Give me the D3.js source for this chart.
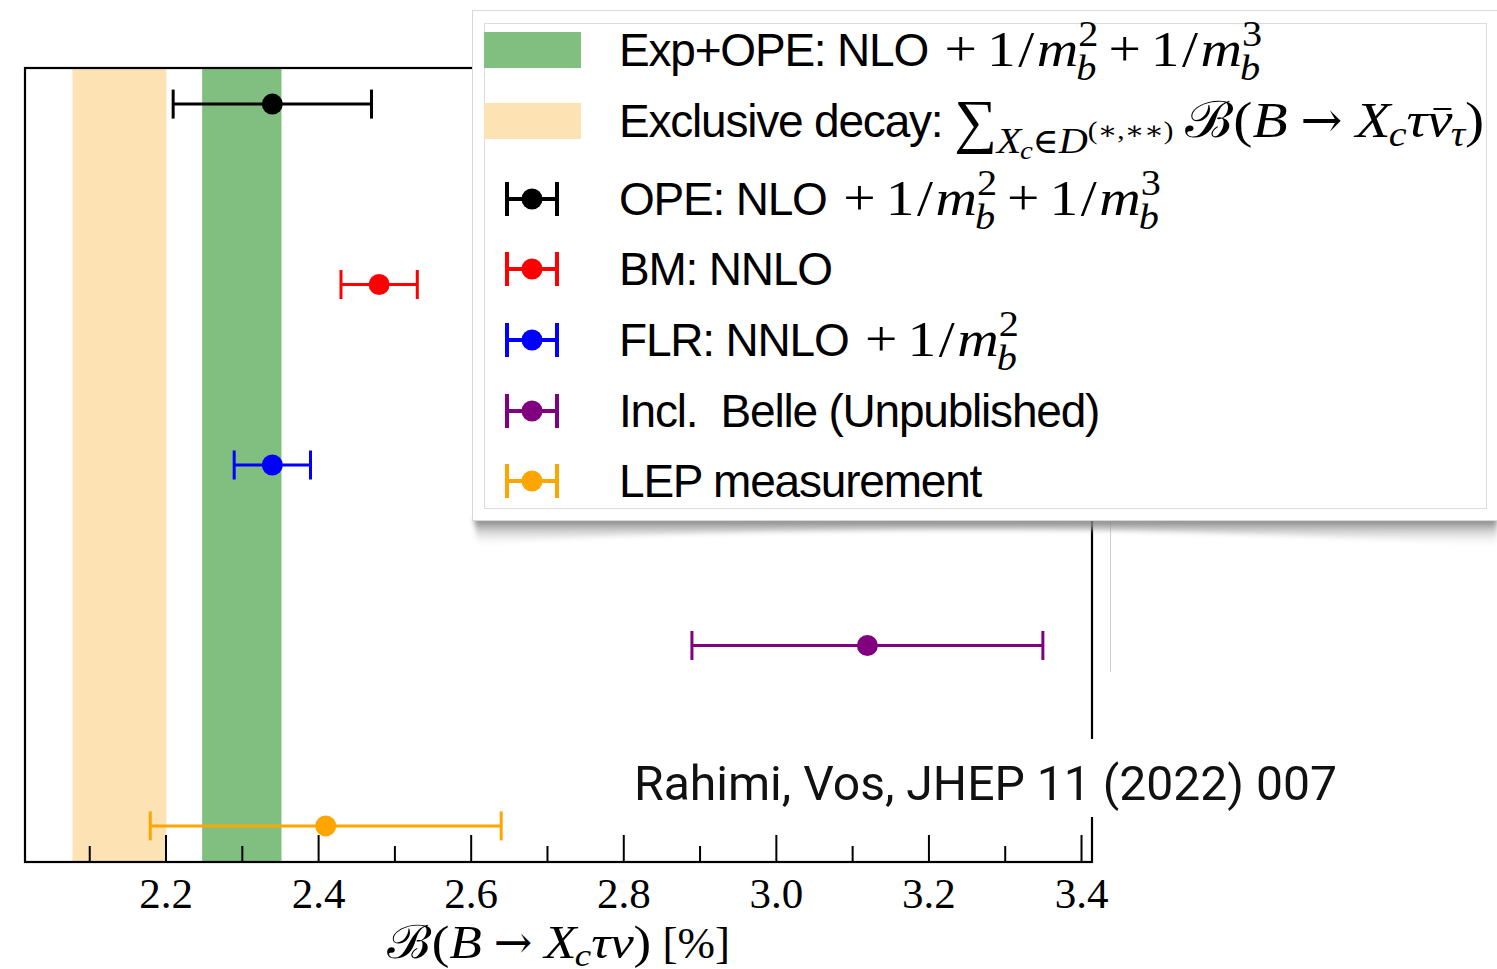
<!DOCTYPE html>
<html lang="en">
<head>
<meta charset="utf-8">
<title>B to Xc tau nu branching ratio</title>
<script src="https://d3js.org/d3.v7.min.js"></script>
<style>
  body { margin: 0; background: #fff; }
  svg { display: block; }
  .sans { font-family: "Liberation Sans", Arial, sans-serif; letter-spacing: -1.2px; }
  .serif { font-family: "Liberation Serif", "DejaVu Serif", serif; }
  .rel { font-family: "DejaVu Serif", serif; }
</style>
</head>
<body>
<script>

// ---- data ----
var seriesNames = ["OPE: NLO $+ 1/m_b^2 + 1/m_b^3$", "BM: NNLO", "FLR: NNLO $+ 1/m_b^2$",
                   "Incl.  Belle (Unpublished)", "LEP measurement"];
var seriesColors = ["black", "red", "blue", "purple", "orange"];
var centers = [2.34, 2.48, 2.34, 3.12, 2.41];
var errors = [0.13, 0.05, 0.05, 0.23, 0.23];
var rowPos = [5, 4, 3, 2, 1];

var bandNames = ["Exp+OPE: NLO $+ 1/m_b^2 + 1/m_b^3$",
                 "Exclusive decay: $\\sum_{X_c\\in D^{(*,**)}}$ $\\mathcal{B}(B\\to X_c\\tau\\bar{\\nu}_\\tau)$"];
var bandLow = [2.248, 2.078];
var bandHigh = [2.352, 2.201];
var bandColors = ["#80bf80", "#fde3b3"];

var majorTicks = [2.2, 2.4, 2.6, 2.8, 3.0, 3.2, 3.4];
var minorTicks = [2.1, 2.3, 2.5, 2.7, 2.9, 3.1, 3.3];
var xLabel = "$\\mathcal{B}(B\\to X_c\\tau\\nu)$ [%]";
var citation = "Rahimi, Vos, JHEP 11 (2022) 007";

// ---- layout ----
var W = 1497, H = 969;
var pLeft = 25, pRight = 1092, pTop = 68, pBottom = 862;
var legendFont = 46, mathFont = 50;
var mathStretch = 1.15;   // Computer Modern is wider than Times

var svg = d3.select("body").append("svg").attr("width", W).attr("height", H);

var x = d3.scaleLinear().domain([2.0158, 3.4144]).range([pLeft, pRight]);
var y = d3.scaleLinear().domain([0.8, 5.2]).range([pBottom, pTop]);

// bands
svg.selectAll("rect.band")
   .data(bandLow)
   .enter()
   .append("rect")
   .attr("class", "band")
   .attr("x", function(d) { return x(d); })
   .attr("y", pTop)
   .attr("width", function(d, i) { return x(bandHigh[i]) - x(d); })
   .attr("height", pBottom - pTop)
   .attr("fill", function(d, i) { return bandColors[i]; });

// x axis ticks (matplotlib style, inward)
var xAxis = d3.axisBottom(x).tickValues(majorTicks).tickSize(-27).tickFormat(d3.format(".1f")).tickPadding(8);
var xMinor = d3.axisBottom(x).tickValues(minorTicks).tickSize(-16).tickFormat("");

svg.append("g").attr("class", "x axis minor")
   .attr("transform", "translate(0," + pBottom + ")")
   .call(xMinor);
svg.append("g").attr("class", "x axis")
   .attr("transform", "translate(0," + pBottom + ")")
   .call(xAxis);

svg.selectAll(".axis .domain").remove();
svg.selectAll(".axis line").attr("stroke", "black").attr("stroke-width", 2);
svg.selectAll(".x.axis text")
   .attr("class", "serif")
   .attr("dy", null)
   .attr("y", 46)
   .style("font-size", "43px")
   .attr("fill", "black");

// error bars
var bars = svg.selectAll("g.bar")
   .data(centers)
   .enter()
   .append("g")
   .attr("class", "bar");

bars.append("line")
   .attr("x1", function(d, i) { return x(d - errors[i]); })
   .attr("x2", function(d, i) { return x(d + errors[i]); })
   .attr("y1", function(d, i) { return y(rowPos[i]); })
   .attr("y2", function(d, i) { return y(rowPos[i]); })
   .attr("stroke", function(d, i) { return seriesColors[i]; })
   .attr("stroke-width", 3);

[-1, 1].forEach(function(s) {
  bars.append("line")
     .attr("x1", function(d, i) { return x(d + s * errors[i]); })
     .attr("x2", function(d, i) { return x(d + s * errors[i]); })
     .attr("y1", function(d, i) { return y(rowPos[i]) - 14.5; })
     .attr("y2", function(d, i) { return y(rowPos[i]) + 14.5; })
     .attr("stroke", function(d, i) { return seriesColors[i]; })
     .attr("stroke-width", 3);
});

bars.append("circle")
   .attr("cx", function(d) { return x(d); })
   .attr("cy", function(d, i) { return y(rowPos[i]); })
   .attr("r", 10.5)
   .attr("fill", function(d, i) { return seriesColors[i]; });

// frame
svg.append("rect")
   .attr("x", pLeft).attr("y", pTop)
   .attr("width", pRight - pLeft).attr("height", pBottom - pTop)
   .attr("fill", "none").attr("stroke", "black").attr("stroke-width", 2.2);

// ---- tiny TeX-ish renderer for labels ----
var symbols = {
  sum: { t: "\u2211", op: true },
  to: { t: "\u2192", rel: true },
  tau: { t: "\u03c4", it: true },
  nu: { t: "\u03bd", it: true },
  "in": { t: "\u2208", rel: true }
};

function parseMath(s) {
  var i = 0;
  function group() {
    var list = [];
    while (i < s.length) {
      var c = s[i];
      if (c === "}") { i++; break; }
      if (c === " ") { i++; continue; }
      if (c === "^" || c === "_") {
        i++;
        var a = arg();
        var last = list[list.length - 1];
        if (c === "^") last.sup = a; else last.sub = a;
        continue;
      }
      list.push(atom());
    }
    return list;
  }
  function arg() {
    if (s[i] === "{") { i++; return group(); }
    return [atom()];
  }
  function atom() {
    var c = s[i];
    if (c === "{") { i++; return { kids: group() }; }
    if (c === "\\") {
      var m = /^\\([a-zA-Z]+)/.exec(s.slice(i));
      i += m[0].length;
      if (m[1] === "mathcal") { arg(); return { t: "\u212c", cal: true }; }
      if (m[1] === "bar") { var a = arg()[0]; a.bar = true; return a; }
      return Object.assign({}, symbols[m[1]]);
    }
    i++;
    if (/[A-Za-z]/.test(c)) return { t: c, it: true };
    if (c === "+") return { t: "+", bin: true };
    if (c === "*") return { t: "\u2217" };
    if (c === "/") return { t: "/", slash: true };
    return { t: c };
  }
  return group();
}

function renderMath(g, list, px, py, size, level) {
  list.forEach(function(a, idx) {
    if (a.kids) {
      px = renderMath(g, a.kids, px, py, size, level);
    } else {
      var pad = (level === 0 && (a.bin || a.rel)) ? size * (a.rel ? 0.26 : 0.2) : 0;
      px += (level === 0 && idx === 0 && a.bin) ? size * 0.1 : pad;
      if (a.slash) px += size * 0.05;
      var fs = a.op ? size * 1.2 : size;
      var t = g.append("text")
         .attr("class", a.rel ? "rel" : "serif")
         .attr("x", px).attr("y", a.op ? py + size * 0.08 : py)
         .style("font-size", fs + "px")
         .style("font-style", a.it ? "italic" : "normal")
         .text(a.t);
      var w = t.node().getComputedTextLength();
      if (!a.rel && !a.op) {
        w = w * mathStretch;
        t.attr("textLength", w).attr("lengthAdjust", "spacingAndGlyphs");
      }
      if (a.bar) {
        g.append("line")
           .attr("x1", px + w * 0.25).attr("x2", px + w * 0.95)
           .attr("y1", py - size * 0.56).attr("y2", py - size * 0.56)
           .attr("stroke", "black").attr("stroke-width", size * 0.04);
      }
      px += w + pad;
      if (a.slash) px += size * 0.05;
    }
    if (a.sup || a.sub) {
      var x0 = px, x1 = px, x2 = px;
      var ss = size * (level === 0 ? 0.7 : 0.72);
      if (a.sup) x1 = renderMath(g, a.sup, x0, py - size * 0.4, ss, level + 1);
      if (a.sub) x2 = renderMath(g, a.sub, x0 - (a.it ? size * 0.04 : 0), py + size * (a.sup ? 0.27 : (a.op ? 0.32 : 0.17)), ss, level + 1);
      px = Math.max(x1, x2);
    }
  });
  return px;
}

function renderLabel(g, str, px, py, textClass, textSize, mSize) {
  str.split("$").forEach(function(p, k) {
    if (k % 2 === 0) {
      if (!p) return;
      var t = g.append("text")
         .attr("class", textClass)
         .attr("x", px).attr("y", py)
         .style("font-size", textSize + "px")
         .style("white-space", "pre")
         .text(p);
      px += t.node().getComputedTextLength();
    } else {
      px = renderMath(g, parseMath(p), px, py, mSize, 0);
    }
  });
  return px;
}

// x label, centred under the axes
var xl = svg.append("g");
var xlw = renderLabel(xl, xLabel, 0, 958, "serif", 45, 46);
xl.attr("transform", "translate(" + ((pLeft + pRight) / 2 - xlw / 2) + ",0)");

// citation with white box behind
svg.append("rect")
   .attr("x", 626).attr("y", 739)
   .attr("width", 718).attr("height", 78)
   .attr("fill", "white");
svg.append("text")
   .attr("x", 634).attr("y", 800)
   .style("font-family", "Roboto, sans-serif")
   .style("font-size", "49px")
   .attr("textLength", 703)
   .attr("lengthAdjust", "spacingAndGlyphs")
   .attr("fill", "#111")
   .text(citation);

// faint line left behind by the overlay
svg.append("line")
   .attr("x1", 1110.5).attr("x2", 1110.5).attr("y1", 522).attr("y2", 672)
   .attr("stroke", "#cfcfcf").attr("stroke-width", 1);

// ---- legend overlay (pasted panel with shadow) ----
var defs = svg.append("defs");
var grad = defs.append("linearGradient").attr("id", "shade").attr("x1", 0).attr("x2", 0).attr("y1", 0).attr("y2", 1);
grad.append("stop").attr("offset", "0%").attr("stop-color", "#6e6e6e");
grad.append("stop").attr("offset", "100%").attr("stop-color", "#ffffff").attr("stop-opacity", 0);
defs.append("filter").attr("id", "blur").append("feGaussianBlur").attr("stdDeviation", 2.5);

svg.append("path")
   .attr("d", "M474,518 L1497,518 L1497,548 C1350,536 1150,528 900,530 C700,532 540,536 478,548 Z")
   .attr("fill", "url(#shade)")
   .attr("filter", "url(#blur)");

svg.append("rect")
   .attr("x", 472.5).attr("y", 10.5)
   .attr("width", 1030).attr("height", 510)
   .attr("fill", "white")
   .attr("stroke", "#d8d8d8").attr("stroke-width", 1);

svg.append("rect")
   .attr("x", 484.5).attr("y", 23.5)
   .attr("width", 1002).attr("height", 485)
   .attr("fill", "white")
   .attr("stroke", "#dcdcdc").attr("stroke-width", 1);

var legendRowY = [50, 121, 199, 269, 340, 411, 481];
var legend = svg.append("g");

bandNames.forEach(function(name, i) {
  legend.append("rect")
     .attr("x", 484).attr("y", legendRowY[i] - 18)
     .attr("width", 97).attr("height", 36)
     .attr("fill", bandColors[i]);
  renderLabel(legend, name, 619, legendRowY[i] + 16, "sans", legendFont, mathFont);
});

seriesNames.forEach(function(name, i) {
  var cy = legendRowY[i + 2];
  var c = seriesColors[i];
  legend.append("line").attr("x1", 507).attr("x2", 557).attr("y1", cy).attr("y2", cy)
     .attr("stroke", c).attr("stroke-width", 4);
  [507, 557].forEach(function(cx) {
    legend.append("line").attr("x1", cx).attr("x2", cx).attr("y1", cy - 17).attr("y2", cy + 17)
       .attr("stroke", c).attr("stroke-width", 4);
  });
  legend.append("circle").attr("cx", 532).attr("cy", cy).attr("r", 10.5).attr("fill", c);
  renderLabel(legend, name, 619, cy + 16, "sans", legendFont, mathFont);
});

</script>
</body>
</html>
